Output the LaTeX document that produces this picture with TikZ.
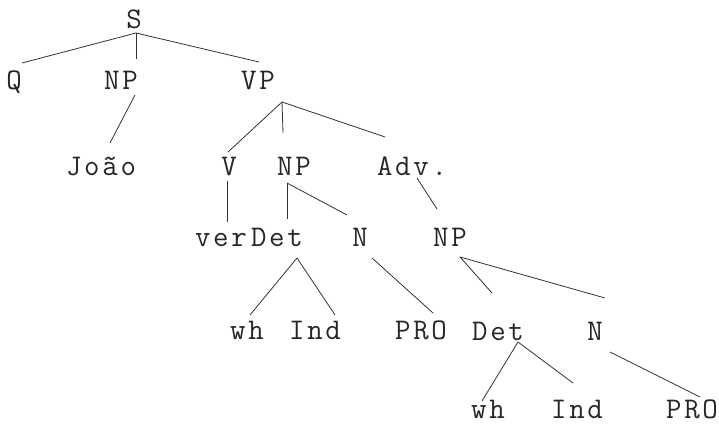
\documentclass[tikz,border=0pt]{standalone}
\usepackage{fontspec}
\setmonofont{Latin Modern Mono}[LetterSpace=9]
\begin{document}
\begin{tikzpicture}[x=1pt,y=-1pt,
  lab/.style={anchor=base, inner sep=0pt, font=\ttfamily\fontsize{30}{30}\selectfont, text=black!85},
  br/.style={line width=0.8pt, black!80}]
\useasboundingbox (0,0) rectangle (719,425);
% nodes
\node[lab] (S) at (134,29) {S};
\node[lab] (Q) at (14,90) {Q};
\node[lab] (NP1) at (121,90) {NP};
\node[lab] (VP) at (258,90) {VP};
\node[lab] (Joao) at (101,175) {João};
\node[lab] (V) at (229,175) {V};
\node[lab] (NP2) at (294,175) {NP};
\node[lab] (Adv) at (412,175) {Adv.};
\node[lab] (ver) at (221,246) {ver};
\node[lab] (Det) at (277,246) {Det};
\node[lab] (N) at (360,246) {N};
\node[lab] (NP3) at (450,246) {NP};
\node[lab] (wh) at (247,339) {wh};
\node[lab] (Ind) at (315,339) {Ind};
\node[lab] (PRO1) at (421,339) {PRO};
\node[lab] (Det2) at (498,340) {Det};
\node[lab] (N2) at (595,340) {N};
\node[lab] (wh2) at (488,418) {wh};
\node[lab] (Ind2) at (577,418) {Ind};
\node[lab] (PRO2) at (692,418) {PRO};
% branches
\draw[br] ([shift={(2,4)}]S.base) -- ([shift={(8,-27)}]Q.base);
\draw[br] ([shift={(2,4)}]S.base) -- ([shift={(15,-31)}]NP1.base);
\draw[br] ([shift={(2,4)}]S.base) -- ([shift={(1,-28)}]VP.base);
\draw[br] ([shift={(14,5)}]NP1.base) -- ([shift={(9,-32)}]Joao.base);
\draw[br] ([shift={(24,12)}]VP.base) -- ([shift={(-1,-23)}]V.base);
\draw[br] ([shift={(24,12)}]VP.base) -- ([shift={(-11,-42)}]NP2.base);
\draw[br] ([shift={(24,12)}]VP.base) -- ([shift={(-27,-38)}]Adv.base);
\draw[br] ([shift={(-2,6)}]V.base) -- ([shift={(6,-24)}]ver.base);
\draw[br] ([shift={(-7,8)}]NP2.base) -- ([shift={(10,-27)}]Det.base);
\draw[br] ([shift={(-7,8)}]NP2.base) -- ([shift={(-13,-31)}]N.base);
\draw[br] ([shift={(5,3)}]Adv.base) -- ([shift={(-13,-37)}]NP3.base);
\draw[br] ([shift={(20,12)}]Det.base) -- ([shift={(3,-24)}]wh.base);
\draw[br] ([shift={(20,12)}]Det.base) -- ([shift={(20,-24)}]Ind.base);
\draw[br] ([shift={(12,12)}]N.base) -- ([shift={(12,-26)}]PRO1.base);
\draw[br] ([shift={(10,11)}]NP3.base) -- ([shift={(-6,-47)}]Det2.base);
\draw[br] ([shift={(10,11)}]NP3.base) -- ([shift={(10,-42)}]N2.base);
\draw[br] ([shift={(20,2)}]Det2.base) -- ([shift={(-6,-17)}]wh2.base);
\draw[br] ([shift={(20,2)}]Det2.base) -- ([shift={(-4,-35)}]Ind2.base);
\draw[br] ([shift={(15,12)}]N2.base) -- ([shift={(8,-21)}]PRO2.base);
\end{tikzpicture}
\end{document}
